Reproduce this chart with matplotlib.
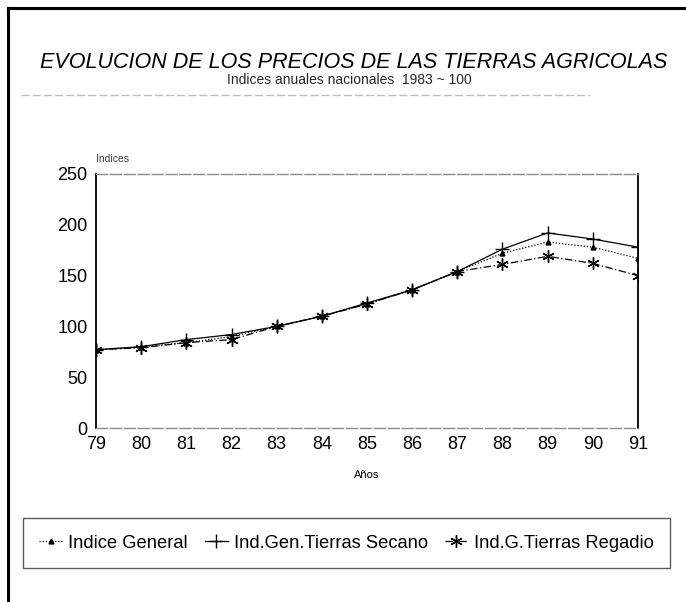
import matplotlib.pyplot as plt
from matplotlib.lines import Line2D

plt.rcParams["font.family"] = ["Liberation Sans", "DejaVu Sans"]

# Years (two-digit labels) and annual indices, 1983 = 100
years = [79, 80, 81, 82, 83, 84, 85, 86, 87, 88, 89, 90, 91]
indice_general = [77, 80, 84, 90, 100, 110, 122, 136, 154, 172, 183, 178, 167]
tierras_secano = [77, 80, 87, 92, 100, 110, 123, 136, 154, 176, 192, 186, 178]
tierras_regadio = [77, 79, 84, 87, 100, 110, 122, 136, 154, 161, 169, 162, 150]

y_ticks = [0, 50, 100, 150, 200, 250]

fig = plt.figure(figsize=(6.86, 6.02), dpi=100)

# outer frame of the scanned page
fig.add_artist(Line2D([0.012, 0.012], [0.0, 0.987], color="black", lw=2.2))
fig.add_artist(Line2D([0.012, 1.0], [0.987, 0.987], color="black", lw=2.2))
fig.add_artist(Line2D([0.03, 0.86], [0.842, 0.842], color="0.75", lw=1.0,
                      ls=(0, (6, 2))))

fig.text(0.515, 0.897, "EVOLUCION DE LOS PRECIOS DE LAS TIERRAS AGRICOLAS",
         ha="center", va="center", fontsize=15.5, style="italic")
fig.text(0.51, 0.867, "Indices anuales nacionales  1983 ~ 100",
         ha="center", va="center", fontsize=10, color="0.15")

ax = fig.add_axes([0.140, 0.289, 0.790, 0.422])

ax.plot(years, indice_general, color="black", lw=0.9, ls=(0, (1, 1.5)),
        marker="^", markersize=3.5, label="Indice General")
ax.plot(years, tierras_secano, color="black", lw=0.9, ls="-",
        marker="+", markersize=10, markeredgewidth=1.0,
        label="Ind.Gen.Tierras Secano")
ax.plot(years, tierras_regadio, color="black", lw=0.9, ls=(0, (6, 2, 1, 2)),
        marker=(6, 2, 0), markersize=9, markeredgewidth=1.0,
        label="Ind.G.Tierras Regadio")

ax.set_xlim(79, 91)
ax.set_ylim(0, 250)
ax.set_xticks(years)
ax.set_xticklabels([str(y) for y in years])
ax.set_yticks(y_ticks)
ax.tick_params(length=0, labelsize=13, pad=6)

for side in ["top", "bottom"]:
    ax.spines[side].set_color("0.55")
    ax.spines[side].set_linestyle((0, (8, 2)))
    ax.spines[side].set_linewidth(1.0)
ax.spines["left"].set_linewidth(1.3)
ax.spines["right"].set_linewidth(1.3)

ax.text(0.0, 1.04, "Indices", transform=ax.transAxes, fontsize=7.5,
        ha="left", va="bottom", color="0.25")
ax.set_xlabel("Años", fontsize=8, labelpad=12)

leg = fig.legend(loc="center", bbox_to_anchor=(0.505, 1 - 543 / 602),
                 ncol=3, fontsize=13.2, frameon=True, fancybox=False,
                 edgecolor="0.2", handlelength=1.3, handletextpad=0.3,
                 columnspacing=0.9, borderpad=0.9)
leg.get_frame().set_linewidth(1.0)

fig.savefig("out.png", dpi=100)
